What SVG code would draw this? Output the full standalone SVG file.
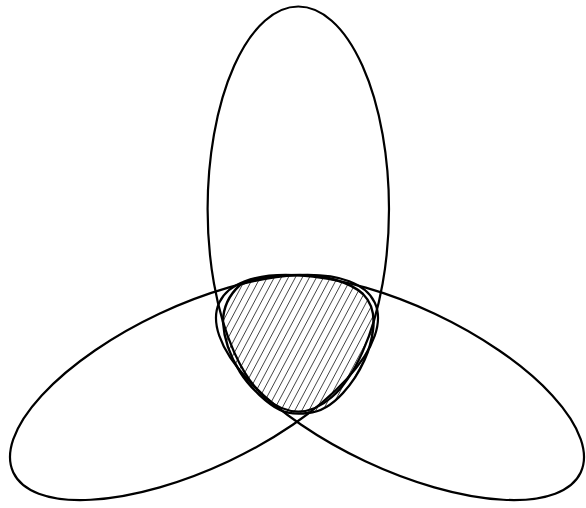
<svg xmlns="http://www.w3.org/2000/svg" width="586" height="508" viewBox="0 0 586 508">
  <style>
    .outline { fill: none; stroke: #000; stroke-width: 2.2; }
    .region { fill: url(#hatch); stroke: #000; stroke-width: 2.4; stroke-linejoin: round; }
  </style>
  <defs>
    <pattern id="hatch" width="6.2" height="6.2" patternUnits="userSpaceOnUse" patternTransform="rotate(28)">
      <rect width="6.2" height="6.2" fill="#fff"/>
      <line x1="0" y1="-1" x2="0" y2="7.2" stroke="#000" stroke-width="1.3"/>
    </pattern>
  </defs>
  <rect width="586" height="508" fill="#fff"/>
  <g id="intersection">
    <path class="region" d="M 300 275 C 325 275 350 282 363 294 C 372 303 375 315 373 330 C 371 348 362 372 343 393 C 333 404 322 412 308 413 C 298 414 288 414 280 410 C 268 404 250 388 240 372 C 230 356 224 340 223 322 C 223 308 228 296 240 285 C 255 277 278 275 300 275 Z"/>
  </g>
  <g id="ellipse-top">
    <ellipse class="outline" cx="298.3" cy="209" rx="90.7" ry="202.5"/>
  </g>
  <g id="ellipse-left">
    <ellipse class="outline" cx="194" cy="387.5" rx="199.7" ry="81.5" transform="rotate(-25.2 194 387.5)"/>
  </g>
  <g id="ellipse-right">
    <ellipse class="outline" cx="400" cy="387.5" rx="199.7" ry="81.5" transform="rotate(25.2 400 387.5)"/>
  </g>
</svg>
